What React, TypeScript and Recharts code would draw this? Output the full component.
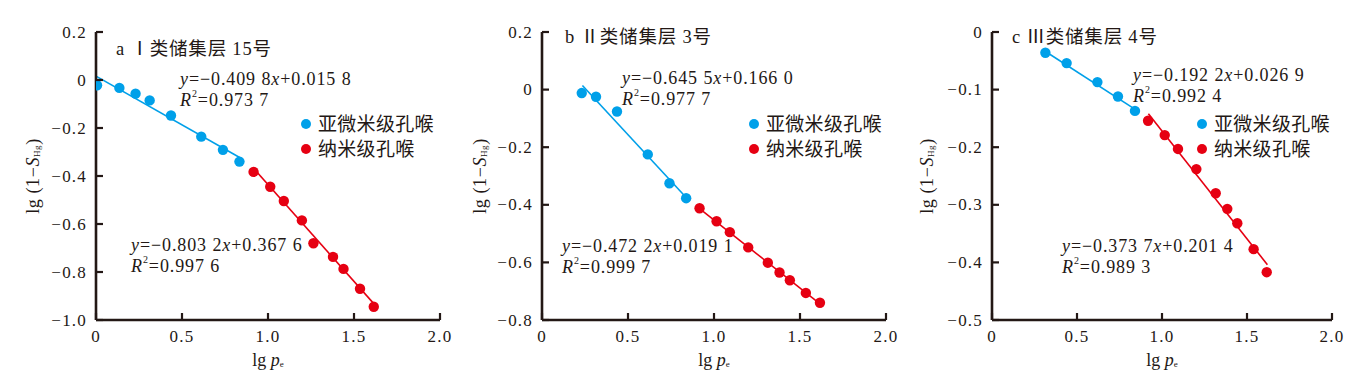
import React from 'react';
import { ComposedChart, Scatter, Line, XAxis, YAxis } from 'recharts';

// ---------- data ----------
const xTicks = [0, 0.5, 1.0, 1.5, 2.0];

// Panel a: Ⅰ类储集层 15号
const aSubX = [0.006, 0.136, 0.23, 0.312, 0.436, 0.612, 0.738, 0.834];
const aSubY = [-0.022, -0.033, -0.057, -0.085, -0.148, -0.236, -0.291, -0.34];
const aNanoX = [0.916, 1.013, 1.092, 1.197, 1.264, 1.378, 1.439, 1.535, 1.615];
const aNanoY = [-0.383, -0.445, -0.504, -0.585, -0.68, -0.737, -0.787, -0.87, -0.945];
const aSubFitX = [0.0, 0.848];
const aSubFitY = [0.016, -0.328];
const aNanoFitX = [0.916, 1.62];
const aNanoFitY = [-0.368, -0.936];
const aYTicks = [0.2, 0, -0.2, -0.4, -0.6, -0.8, -1.0];

// Panel b: Ⅱ类储集层 3号
const bSubX = [0.231, 0.314, 0.436, 0.615, 0.741, 0.838];
const bSubY = [-0.012, -0.025, -0.076, -0.225, -0.325, -0.377];
const bNanoX = [0.916, 1.015, 1.092, 1.199, 1.313, 1.381, 1.441, 1.534, 1.616];
const bNanoY = [-0.412, -0.457, -0.495, -0.548, -0.601, -0.635, -0.662, -0.706, -0.74];
const bSubFitX = [0.235, 0.826];
const bSubFitY = [0.014, -0.367];
const bNanoFitX = [0.916, 1.62];
const bNanoFitY = [-0.413, -0.746];
const bYTicks = [0.2, 0, -0.2, -0.4, -0.6, -0.8];

// Panel c: Ⅲ类储集层 4号
const cSubX = [0.314, 0.439, 0.62, 0.741, 0.841];
const cSubY = [-0.036, -0.054, -0.087, -0.112, -0.137];
const cNanoX = [0.918, 1.016, 1.094, 1.202, 1.316, 1.384, 1.443, 1.539, 1.616];
const cNanoY = [-0.154, -0.179, -0.203, -0.238, -0.28, -0.307, -0.332, -0.377, -0.417];
const cSubFitX = [0.31, 0.84];
const cSubFitY = [-0.033, -0.134];
const cNanoFitX = [0.92, 1.62];
const cNanoFitY = [-0.142, -0.404];
const cYTicks = [0, -0.1, -0.2, -0.3, -0.4, -0.5];

const legendLabels = ['亚微米级孔喉', '纳米级孔喉'];

// ---------- styles ----------
const BLUE = '#00a0e9';
const RED = '#e60012';
const AXIS = '#231815';
const TEXT = '#231815';
const SERIF = '"Liberation Serif", "Times New Roman", "Noto Sans CJK SC", serif';

const zip = (xs: number[], ys: number[]) => xs.map((x, i) => ({ x, y: ys[i] }));

const fmtY = (v: number) => {
  if (Math.abs(v) < 1e-9) return '0';
  const s = Math.abs(v).toFixed(1);
  return v < 0 ? '\u2212' + s : s;
};
const fmtX = (v: number) => (v === 0 ? '0' : v.toFixed(1));

const YTick = (props: any) => {
  const { x, y, payload } = props;
  return (
    <g>
      <line x1={x} y1={y} x2={x + 7} y2={y} stroke={AXIS} strokeWidth={2.2} />
      <text
        x={x - 9}
        y={y}
        textAnchor="end"
        dominantBaseline="central"
        fontFamily={SERIF}
        fontSize={17}
        letterSpacing={1.2}
        fill={TEXT}
      >
        {fmtY(payload.value)}
      </text>
    </g>
  );
};

const XTick = (props: any) => {
  const { x, y, payload } = props;
  return (
    <g>
      <line x1={x} y1={y} x2={x} y2={y - 7} stroke={AXIS} strokeWidth={2.2} />
      <text
        x={x}
        y={y + 16}
        textAnchor="middle"
        dominantBaseline="central"
        fontFamily={SERIF}
        fontSize={17}
        letterSpacing={1.2}
        fill={TEXT}
      >
        {fmtX(payload.value)}
      </text>
    </g>
  );
};

const dot = (color: string) => (p: any) => (
  <circle cx={p.cx} cy={p.cy} r={5.2} fill={color} stroke="none" />
);

type Eq = { x: number; y: number; slope: string; icpt: string; r2: string };

type PanelProps = {
  plotLeft: number;
  plotRight: number;
  yDomain: [number, number];
  yTicks: number[];
  sub: { x: number; y: number }[];
  nano: { x: number; y: number }[];
  subFit: { x: number; y: number }[];
  nanoFit: { x: number; y: number }[];
  title: string;
  titlePos: [number, number];
  eqSub: Eq;
  eqNano: Eq;
  legendPos: [number, number];
  yLabelX: number;
};

const W = 455;
const H = 384;
const TOP = 32;
const BOTTOM = 320;
const Y_AXIS_W = 40;
const X_AXIS_H = 30;

const Equation = ({ eq }: { eq: Eq }) => (
  <g fontFamily={SERIF} fontSize={18} fill={TEXT} letterSpacing={0.9}>
    <text x={eq.x} y={eq.y} dominantBaseline="central">
      <tspan fontStyle="italic">y</tspan>
      <tspan>=−{eq.slope}</tspan>
      <tspan fontStyle="italic">x</tspan>
      <tspan>+{eq.icpt}</tspan>
    </text>
    <text x={eq.x} y={eq.y + 21} dominantBaseline="central">
      <tspan fontStyle="italic">R</tspan>
      <tspan dy={-7} fontSize={10}>2</tspan>
      <tspan dy={7}>={eq.r2}</tspan>
    </text>
  </g>
);

const Panel = (p: PanelProps) => {
  const margin = {
    top: TOP,
    right: W - p.plotRight,
    bottom: H - BOTTOM - X_AXIS_H,
    left: p.plotLeft - Y_AXIS_W,
  };
  const cx = (p.plotLeft + p.plotRight) / 2;
  return (
    <div style={{ position: 'relative', width: W, height: H }}>
      <ComposedChart width={W} height={H} margin={margin}>
        <XAxis
          type="number"
          dataKey="x"
          domain={[0, 2]}
          ticks={xTicks}
          allowDataOverflow
          height={X_AXIS_H}
          tickSize={0}
          tickMargin={0}
          tickLine={false}
          axisLine={{ stroke: AXIS, strokeWidth: 2.6 }}
          tick={<XTick />}
          interval={0}
        />
        <YAxis
          type="number"
          dataKey="y"
          domain={p.yDomain}
          ticks={p.yTicks}
          allowDataOverflow
          width={Y_AXIS_W}
          tickSize={0}
          tickMargin={0}
          tickLine={false}
          axisLine={{ stroke: AXIS, strokeWidth: 2.6 }}
          tick={<YTick />}
          interval={0}
        />
        <Line
          data={p.subFit}
          dataKey="y"
          type="linear"
          stroke={BLUE}
          strokeWidth={1.6}
          dot={false}
          activeDot={false}
          isAnimationActive={false}
        />
        <Line
          data={p.nanoFit}
          dataKey="y"
          type="linear"
          stroke={RED}
          strokeWidth={1.6}
          dot={false}
          activeDot={false}
          isAnimationActive={false}
        />
        <Scatter data={p.sub} dataKey="y" shape={dot(BLUE)} isAnimationActive={false} />
        <Scatter data={p.nano} dataKey="y" shape={dot(RED)} isAnimationActive={false} />
      </ComposedChart>
      <svg
        width={W}
        height={H}
        style={{ position: 'absolute', left: 0, top: 0, pointerEvents: 'none' }}
      >
        <text
          x={p.titlePos[0]}
          y={p.titlePos[1]}
          dominantBaseline="central"
          fontFamily={SERIF}
          fontSize={18.5}
          letterSpacing={0.8}
          fill={TEXT}
        >
          {p.title}
        </text>
        <Equation eq={p.eqSub} />
        <Equation eq={p.eqNano} />
        {legendLabels.map((lab, i) => (
          <g key={lab}>
            <circle cx={p.legendPos[0]} cy={p.legendPos[1] + i * 25} r={5} fill={i === 0 ? BLUE : RED} />
            <text
              x={p.legendPos[0] + 12}
              y={p.legendPos[1] + i * 25}
              dominantBaseline="central"
              fontFamily={SERIF}
              fontSize={19}
              letterSpacing={0.3}
              fill={TEXT}
            >
              {lab}
            </text>
          </g>
        ))}
        <text
          transform={`translate(${p.yLabelX}, ${(TOP + BOTTOM) / 2}) rotate(-90)`}
          textAnchor="middle"
          dominantBaseline="central"
          fontFamily={SERIF}
          fontSize={18}
          letterSpacing={0.6}
          fill={TEXT}
        >
          <tspan>lg (1−</tspan>
          <tspan fontStyle="italic">S</tspan>
          <tspan dy={4} fontSize={9}>Hg</tspan>
          <tspan dy={-4}>)</tspan>
        </text>
        <text
          x={cx}
          y={360}
          textAnchor="middle"
          dominantBaseline="central"
          fontFamily={SERIF}
          fontSize={18}
          fill={TEXT}
        >
          <tspan>lg </tspan>
          <tspan fontStyle="italic">p</tspan>
          <tspan dy={4} fontSize={9}>e</tspan>
        </text>
      </svg>
    </div>
  );
};

export default function App() {
  return (
    <div
      style={{
        position: 'absolute',
        left: 0,
        top: 0,
        width: 1365,
        height: 384,
        display: 'flex',
        background: '#fff',
      }}
    >
      <Panel
        plotLeft={96}
        plotRight={440}
        yDomain={[-1, 0.2]}
        yTicks={aYTicks}
        sub={zip(aSubX, aSubY)}
        nano={zip(aNanoX, aNanoY)}
        subFit={zip(aSubFitX, aSubFitY)}
        nanoFit={zip(aNanoFitX, aNanoFitY)}
        title="a Ⅰ类储集层 15号"
        titlePos={[116, 49]}
        eqSub={{ x: 180, y: 79, slope: '0.409 8', icpt: '0.015 8', r2: '0.973 7' }}
        eqNano={{ x: 131, y: 245, slope: '0.803 2', icpt: '0.367 6', r2: '0.997 6' }}
        legendPos={[306, 124]}
        yLabelX={33}
      />
      <Panel
        plotLeft={87}
        plotRight={431}
        yDomain={[-0.8, 0.2]}
        yTicks={bYTicks}
        sub={zip(bSubX, bSubY)}
        nano={zip(bNanoX, bNanoY)}
        subFit={zip(bSubFitX, bSubFitY)}
        nanoFit={zip(bNanoFitX, bNanoFitY)}
        title="b Ⅱ类储集层 3号"
        titlePos={[110, 37]}
        eqSub={{ x: 167, y: 78, slope: '0.645 5', icpt: '0.166 0', r2: '0.977 7' }}
        eqNano={{ x: 107, y: 246, slope: '0.472 2', icpt: '0.019 1', r2: '0.999 7' }}
        legendPos={[299, 124]}
        yLabelX={25}
      />
      <Panel
        plotLeft={82}
        plotRight={422}
        yDomain={[-0.5, 0]}
        yTicks={cYTicks}
        sub={zip(cSubX, cSubY)}
        nano={zip(cNanoX, cNanoY)}
        subFit={zip(cSubFitX, cSubFitY)}
        nanoFit={zip(cNanoFitX, cNanoFitY)}
        title="c Ⅲ类储集层 4号"
        titlePos={[102, 37]}
        eqSub={{ x: 223, y: 75, slope: '0.192 2', icpt: '0.026 9', r2: '0.992 4' }}
        eqNano={{ x: 152, y: 246, slope: '0.373 7', icpt: '0.201 4', r2: '0.989 3' }}
        legendPos={[292, 124]}
        yLabelX={17}
      />
    </div>
  );
}
